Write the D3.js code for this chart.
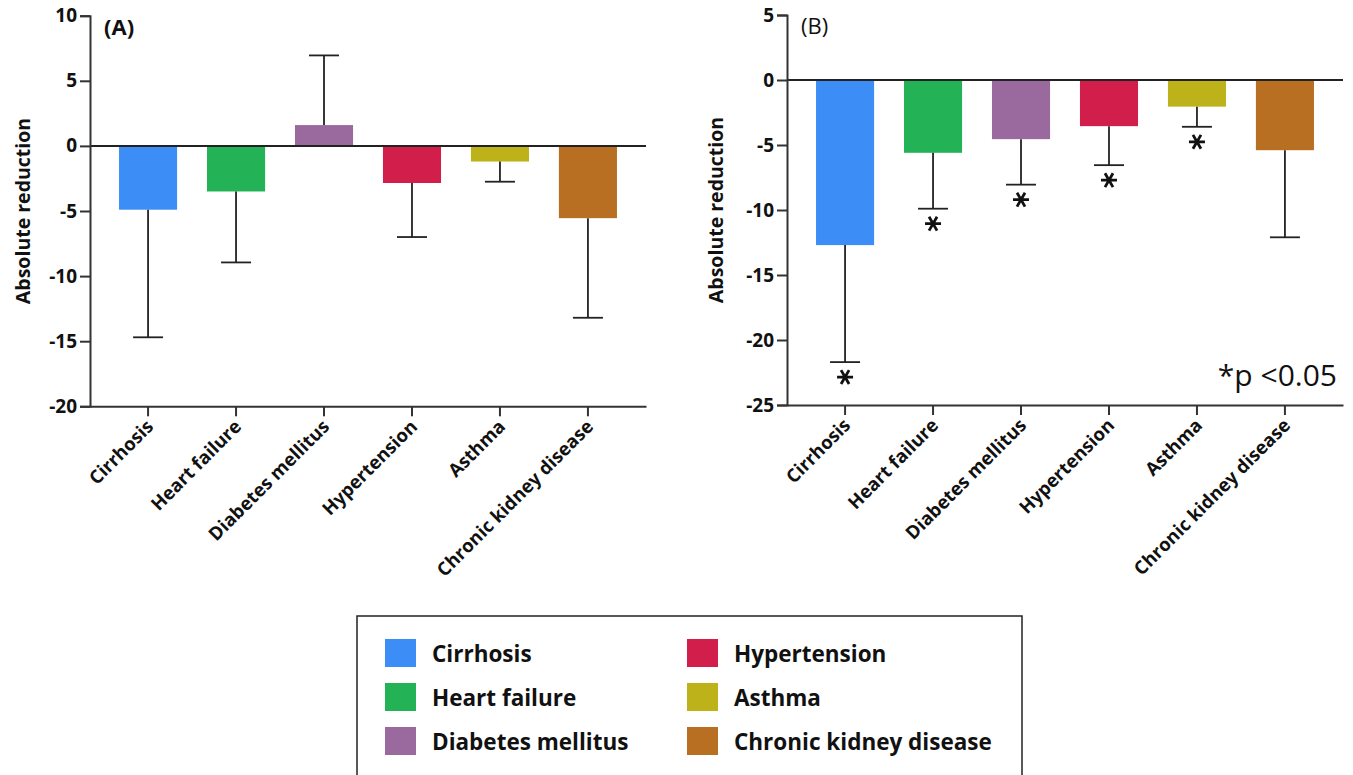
<!DOCTYPE html>
<html>
<head>
<meta charset="utf-8">
<script src="https://cdn.jsdelivr.net/npm/d3@7"></script>
<style>
  html, body { margin: 0; padding: 0; background: #fff; }
  svg { display: block; }
  text { font-family: "Open Sans", "Noto Sans", sans-serif; fill: #111; }
</style>
</head>
<body>
<svg id="chart" width="1353" height="775"></svg>
<script>
// ---------- data ----------
const categories = ["Cirrhosis", "Heart failure", "Diabetes mellitus", "Hypertension", "Asthma", "Chronic kidney disease"];
const colors = ["#3d8df7", "#24b257", "#9a6a9e", "#d21e4b", "#bdb21a", "#b86f22"];

// Panel A: bar value and error-bar end
const valuesA = [-4.9, -3.5, 1.6, -2.85, -1.2, -5.55];
const errorEndA = [-14.7, -8.95, 6.95, -7.0, -2.75, -13.2];

// Panel B: bar value, error-bar end, significance flag
const valuesB = [-12.7, -5.6, -4.55, -3.55, -2.05, -5.4];
const errorEndB = [-21.7, -9.9, -8.05, -6.55, -3.6, -12.1];
const significantB = [true, true, true, true, true, false];

const ticksA = [-20, -15, -10, -5, 0, 5, 10];
const ticksB = [-25, -20, -15, -10, -5, 0, 5];

const svg = d3.select("#chart");

function panel(opts) {
  const { x0, x1, yTop, yBottom, domain, ticks, values, errs, sig, label, labelBold, labelX } = opts;
  const g = svg.append("g");

  const x = d3.scaleBand().domain(categories).range([x0, x1]).paddingInner(0.34).paddingOuter(0.33);
  const y = d3.scaleLinear().domain(domain).range([yBottom, yTop]);

  // Bars
  g.selectAll("rect.bar").data(categories).join("rect")
    .attr("x", d => x(d))
    .attr("width", x.bandwidth())
    .attr("y", (d, i) => Math.min(y(values[i]), y(0)))
    .attr("height", (d, i) => Math.abs(y(values[i]) - y(0)))
    .attr("fill", (d, i) => colors[i]);

  // Error bars
  const cx = d => x(d) + x.bandwidth() / 2;
  g.selectAll("line.stem").data(categories).join("line")
    .attr("x1", cx).attr("x2", cx)
    .attr("y1", (d, i) => y(values[i])).attr("y2", (d, i) => y(errs[i]))
    .attr("stroke", "#222").attr("stroke-width", 1.8);
  g.selectAll("line.cap").data(categories).join("line")
    .attr("x1", d => cx(d) - 15).attr("x2", d => cx(d) + 15)
    .attr("y1", (d, i) => y(errs[i])).attr("y2", (d, i) => y(errs[i]))
    .attr("stroke", "#222").attr("stroke-width", 1.8);

  // Significance asterisks
  if (sig) {
    const r = 8;
    const path = [0, 60, 120].map(a => {
      const t = a * Math.PI / 180;
      return `M${-r * Math.cos(t)},${-r * Math.sin(t)}L${r * Math.cos(t)},${r * Math.sin(t)}`;
    }).join("");
    g.selectAll("path.star").data(categories.filter((d, i) => sig[i])).join("path")
      .attr("transform", d => {
        const i = categories.indexOf(d);
        return `translate(${cx(d)},${y(errs[i]) + 15})`;
      })
      .attr("d", path)
      .attr("stroke", "#111").attr("stroke-width", 2.8).attr("fill", "none");
  }

  // Zero line
  g.append("line")
    .attr("x1", x0).attr("x2", x1)
    .attr("y1", y(0)).attr("y2", y(0))
    .attr("stroke", "#222").attr("stroke-width", 2);

  // Y axis
  const yAxis = d3.axisLeft(y).tickValues(ticks).tickSize(10).tickPadding(3).tickFormat(d3.format("d"));
  const ya = g.append("g").attr("transform", `translate(${x0},0)`).call(yAxis);
  ya.select(".domain").attr("stroke", "#333").attr("stroke-width", 2);
  ya.selectAll(".tick line").attr("stroke", "#333").attr("stroke-width", 2);
  ya.selectAll(".tick text")
    .style("font-family", "'Open Sans', sans-serif")
    .style("font-weight", "700").style("font-size", "19px").attr("fill", "#111")
    .text(d => d < 0 ? "-" + Math.abs(d) : d);

  // X axis
  const xAxis = d3.axisBottom(x).tickSize(10).tickSizeOuter(0).tickPadding(4);
  const xa = g.append("g").attr("transform", `translate(0,${yBottom})`).call(xAxis);
  xa.select(".domain").attr("stroke", "#333").attr("stroke-width", 2);
  xa.selectAll(".tick line").attr("stroke", "#333").attr("stroke-width", 2);
  xa.selectAll(".tick text")
    .style("font-family", "'Open Sans', sans-serif")
    .style("font-weight", "700").style("font-size", "18.5px").attr("fill", "#111")
    .attr("text-anchor", "end")
    .attr("dy", null)
    .attr("transform", "translate(3,18) rotate(-45)")
    .attr("y", 0).attr("x", 0)
    .attr("dominant-baseline", "middle");

  // Y axis title
  g.append("text")
    .attr("transform", `translate(${labelX},${(yTop + yBottom) / 2}) rotate(-90)`)
    .attr("text-anchor", "middle")
    .attr("dominant-baseline", "central")
    .style("font-weight", "700").style("font-size", "19.5px")
    .text("Absolute reduction");

  // Panel label
  g.append("text")
    .attr("x", x0 + 14).attr("y", yTop + 19)
    .style("font-weight", labelBold ? "700" : "500").style("font-size", "22px")
    .text(label);

  return { x, y, g };
}

panel({ x0: 90, x1: 646, yTop: 15.7, yBottom: 406.3, domain: [-20, 10], ticks: ticksA,
        values: valuesA, errs: errorEndA, sig: null, label: "(A)", labelBold: true, labelX: 22 });
panel({ x0: 787, x1: 1343, yTop: 15, yBottom: 405, domain: [-25, 5], ticks: ticksB,
        values: valuesB, errs: errorEndB, sig: significantB, label: "(B)", labelBold: false, labelX: 715 });

// p-value note
svg.append("text")
  .attr("x", 1337).attr("y", 386)
  .attr("text-anchor", "end")
  .style("font-size", "30px").style("font-weight", "400")
  .text("*p <0.05");

// ---------- legend ----------
const legend = svg.append("g");
legend.append("rect")
  .attr("x", 357).attr("y", 616).attr("width", 665).attr("height", 175)
  .attr("fill", "#fff").attr("stroke", "#222").attr("stroke-width", 1.5);

const legendCols = [385, 687];
const legendRows = [653, 697, 741];
legend.selectAll("g.item").data(categories).join("g")
  .attr("transform", (d, i) => `translate(${legendCols[Math.floor(i / 3)]},${legendRows[i % 3]})`)
  .each(function (d, i) {
    const it = d3.select(this);
    it.append("rect").attr("x", 0).attr("y", -14).attr("width", 31).attr("height", 28).attr("fill", colors[i]);
    it.append("text").attr("x", 47).attr("y", 0)
      .attr("dominant-baseline", "central")
      .style("font-weight", "700").style("font-size", "22.5px")
      .text(d);
  });
</script>
</body>
</html>
